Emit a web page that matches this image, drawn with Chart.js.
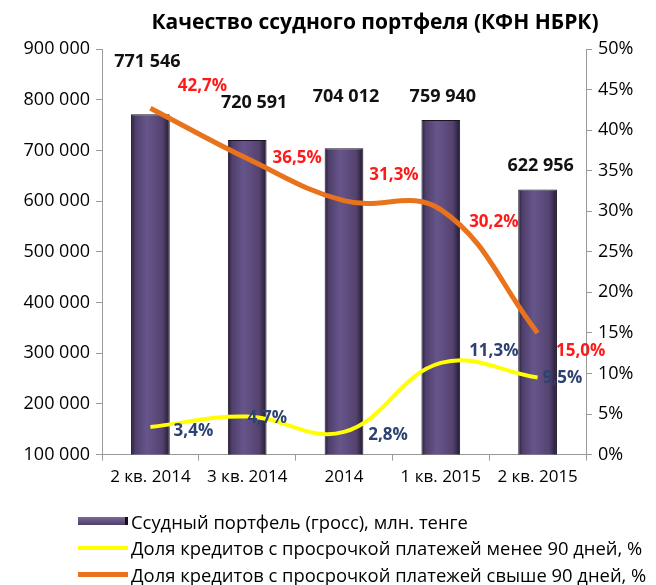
<!DOCTYPE html>
<html>
<head>
<meta charset="utf-8">
<script src="https://cdn.jsdelivr.net/npm/chart.js@4"></script>
<style>
  html, body { margin: 0; padding: 0; background: #fff; }
  #wrap { position: relative; width: 656px; height: 585px; }
  #legend { position: absolute; left: 78px; top: 508px; font: 18.4px "Open Sans", sans-serif; color: #000; }
  #legend .row { height: 26.5px; display: flex; align-items: center; white-space: nowrap; }
  #legend .mk { width: 50px; margin-right: 3px; }
  #legend .bar { height: 8px; background: linear-gradient(#7a6a98, #4d3d6a); border-right: 3px solid #111; box-sizing: border-box; }
  #legend .yl { height: 4px; background: #ffff00; }
  #legend .or { height: 5px; background: #e8731c; }
</style>
</head>
<body>
<div id="wrap">
  <canvas id="c" width="656" height="585"></canvas>
  <div id="legend">
    <div class="row"><div class="mk bar"></div>Ссудный портфель (гросс), млн. тенге</div>
    <div class="row"><div class="mk yl"></div>Доля кредитов с просрочкой платежей менее 90 дней, %</div>
    <div class="row"><div class="mk or"></div>Доля кредитов с просрочкой платежей свыше 90 дней, %</div>
  </div>
</div>
<script>
// ---- data ----
const quarters = ['2 кв. 2014', '3 кв. 2014', '2014', '1 кв. 2015', '2 кв. 2015'];
const portfolio = [771546, 720591, 704012, 759940, 622956];
const overdueUnder90 = [3.4, 4.7, 2.8, 11.3, 9.5];
const overdueOver90 = [42.7, 36.5, 31.3, 30.2, 15.0];

const FONT = '"Open Sans", sans-serif';

const fmtThousands = v => Math.round(v).toString().replace(/\B(?=(\d{3})+(?!\d))/g, ' ');
const fmtPct = v => v.toFixed(1).replace('.', ',') + '%';

// label nudges (px) so the labels sit like in the original
const labelNudge = {
  0: [[-3, -52], [7, -37], [2, -51], [2, -23], [3, -24]],
  1: [[43, 4], [20, 2], [44, 3], [53, -12], [25, 1]],
  2: [[52, -22], [50, 0], [50, -26], [53, 13], [43, 18]]
};
const labelColor = { 0: '#111', 1: '#2c4270', 2: '#ff1a1a' };
const labelFont = { 0: 'bold 18px ', 1: 'bold 17px ', 2: 'bold 17px ' };

const valueLabels = {
  id: 'valueLabels',
  afterDatasetsDraw(chart) {
    const ctx = chart.ctx;
    ctx.save();
    ctx.textAlign = 'center';
    ctx.textBaseline = 'middle';
    chart.data.datasets.forEach((ds, di) => {
      const meta = chart.getDatasetMeta(di);
      ctx.font = labelFont[di] + FONT;
      ctx.fillStyle = labelColor[di];
      meta.data.forEach((el, i) => {
        const [dx, dy] = labelNudge[di][i];
        const txt = di === 0 ? fmtThousands(ds.data[i]) : fmtPct(ds.data[i]);
        ctx.fillText(txt, el.x + dx, el.y + dy);
      });
    });
    // title
    ctx.font = 'bold 21px ' + FONT;
    ctx.fillStyle = '#000';
    ctx.fillText('Качество ссудного портфеля (КФН НБРК)', 375, 23);
    ctx.restore();
  }
};

function barFill(context) {
  const chart = context.chart;
  if (!chart.chartArea || !chart.scales.x) return '#5a4878';
  const cx = chart.scales.x.getPixelForValue(context.dataIndex);
  const g = chart.ctx.createLinearGradient(cx - 20, 0, cx + 20, 0);
  g.addColorStop(0, '#22182f');
  g.addColorStop(0.12, '#4f3f6b');
  g.addColorStop(0.4, '#66558a');
  g.addColorStop(0.8, '#54436f');
  g.addColorStop(1, '#1e152a');
  return g;
}

const tickFont = { family: FONT, size: 18 };

new Chart(document.getElementById('c'), {
  type: 'bar',
  data: {
    labels: quarters,
    datasets: [
      {
        label: 'Ссудный портфель (гросс), млн. тенге',
        data: portfolio,
        yAxisID: 'y',
        backgroundColor: barFill,
        borderColor: '#1b1326',
        borderWidth: 1,
        barPercentage: 0.4,
        categoryPercentage: 1,
        order: 3
      },
      {
        type: 'line',
        label: 'Доля кредитов с просрочкой платежей менее 90 дней, %',
        data: overdueUnder90,
        yAxisID: 'y1',
        borderColor: '#ffff00',
        borderWidth: 4,
        pointRadius: 0,
        tension: 0.4,
        order: 1
      },
      {
        type: 'line',
        label: 'Доля кредитов с просрочкой платежей свыше 90 дней, %',
        data: overdueOver90,
        yAxisID: 'y1',
        borderColor: '#e8731c',
        borderWidth: 5,
        pointRadius: 0,
        tension: 0.4,
        order: 2
      }
    ]
  },
  options: {
    responsive: false,
    animation: false,
    layout: { padding: { top: 49, bottom: 92 } },
    plugins: {
      legend: { display: false },
      tooltip: { enabled: false },
      title: { display: false }
    },
    scales: {
      x: {
        grid: { drawOnChartArea: false, drawTicks: true, tickLength: 6, color: '#9a9a9a' },
        border: { color: '#9a9a9a' },
        ticks: { color: '#000', font: { family: FONT, size: 17 }, maxRotation: 0, autoSkip: false, padding: 6 }
      },
      y: {
        position: 'left',
        min: 100000,
        max: 900000,
        afterFit: s => { s.width = 102; },
        grid: { drawOnChartArea: false, tickLength: 6, color: '#9a9a9a' },
        border: { color: '#9a9a9a' },
        ticks: { stepSize: 100000, color: '#000', font: tickFont, callback: v => fmtThousands(v), padding: 6 }
      },
      y1: {
        position: 'right',
        min: 0,
        max: 50,
        afterFit: s => { s.width = 70; },
        grid: { drawOnChartArea: false, tickLength: 6, color: '#9a9a9a' },
        border: { color: '#9a9a9a' },
        ticks: { stepSize: 5, color: '#000', font: tickFont, callback: v => v + '%', padding: 6 }
      }
    }
  },
  plugins: [valueLabels]
});
</script>
</body>
</html>
